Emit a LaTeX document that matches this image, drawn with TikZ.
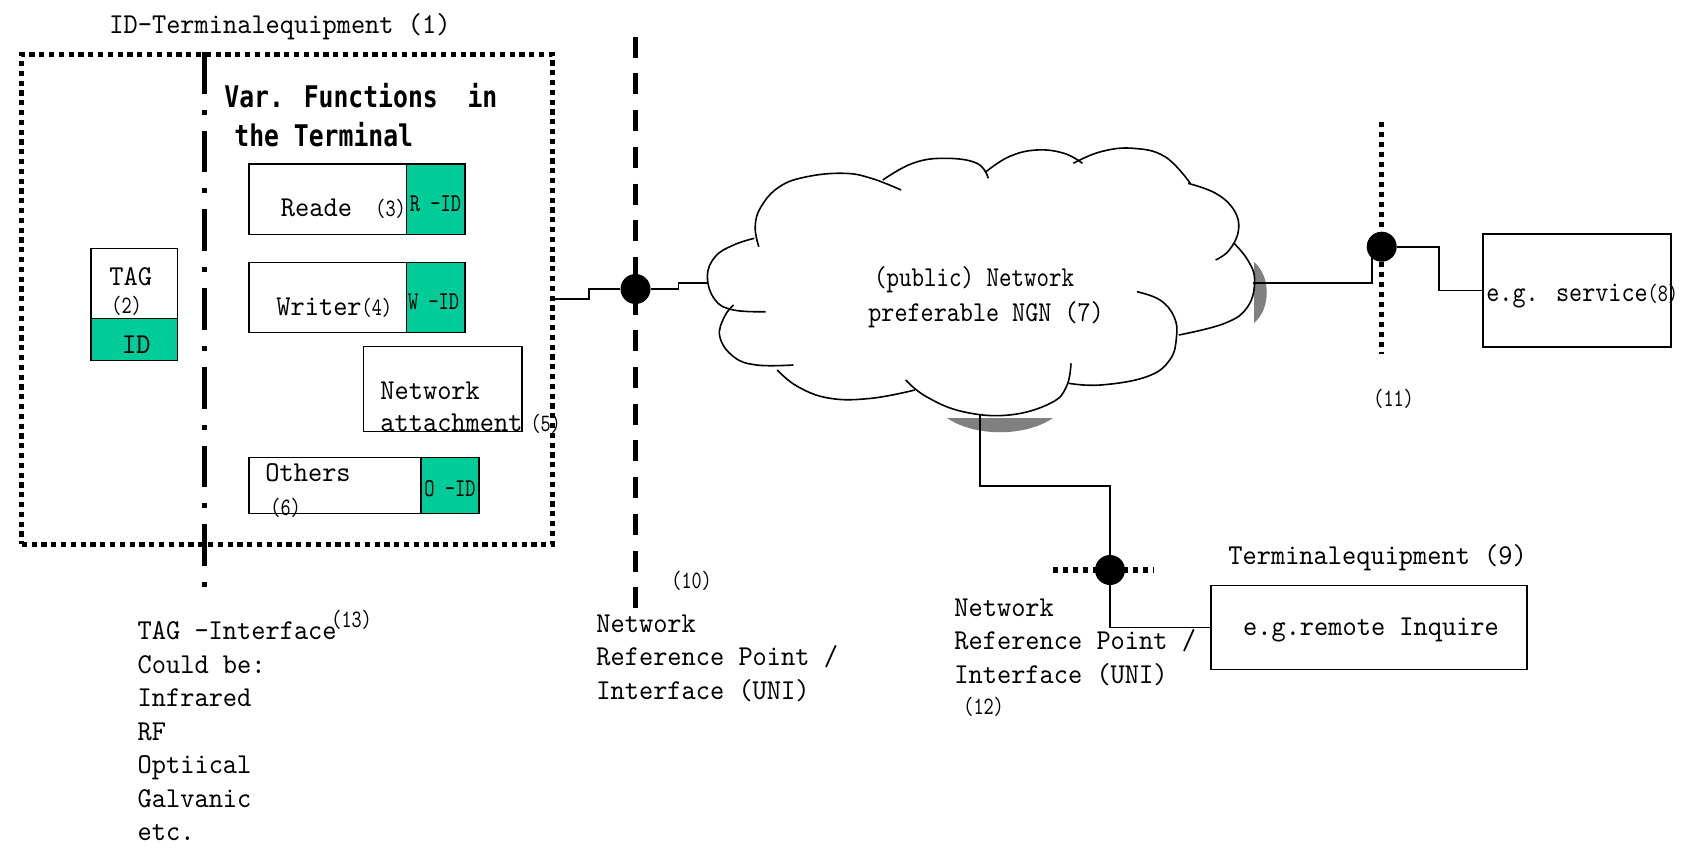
\documentclass[tikz,border=0pt]{standalone}
\usepackage{fontspec}
\usepackage{graphicx}
\newfontfamily\mainf[FakeStretch=0.94]{lmmono10-regular.otf}
\newfontfamily\smallf[FakeStretch=0.77]{lmmono10-regular.otf}
\newfontfamily\idf[FakeStretch=0.76]{lmmono10-regular.otf}
\newfontfamily\boldf[FakeStretch=0.83]{DejaVu Sans Mono}
\newcommand\smallpar[1]{{\smallf\fontsize{12.5pt}{14pt}\selectfont #1}}
\definecolor{idgreen}{HTML}{00CC99}
\definecolor{shadowgray}{HTML}{808080}
\tikzset{
  lbl/.style={inner sep=0pt, anchor=base west, font=\mainf\fontsize{14.4pt}{16.7pt}\selectfont},
  lblblock/.style={inner sep=0pt, anchor=north west, align=left, font=\mainf\fontsize{14.4pt}{16.75pt}\selectfont},
  smalllbl/.style={inner sep=0pt, anchor=base west, font=\smallf\fontsize{12.5pt}{14pt}\selectfont},
  idlbl/.style={inner sep=0pt, anchor=base west, font=\idf\fontsize{12.8pt}{15pt}\selectfont},
  boldlbl/.style={inner sep=0pt, anchor=base west, font=\boldf\bfseries\fontsize{14.9pt}{17pt}\selectfont},
  whitebox/.style={draw, line width=0.8pt, fill=white, inner sep=0pt, anchor=north west},
  greenbox/.style={draw, line width=0.8pt, fill=idgreen, inner sep=0pt, anchor=north west},
  blackdot/.style={circle, fill=black, inner sep=0pt, minimum size=15pt},
  conn/.style={line width=0.8pt},
  cloudline/.style={line width=0.8pt},
  dotline/.style={line width=2.7pt, dash pattern=on 2.5pt off 2.5pt},
  shadow/.style={fill=shadowgray},
}
\begin{document}
\begin{tikzpicture}[x=0.5pt,y=-0.5pt]
\useasboundingbox (0,0) rectangle (1692,847);
\fill[white] (0,0) rectangle (1692,847);

% ---------- ID terminal equipment ----------
\node[lbl] (title) at (109,33) {ID-Terminalequipment (1)};
\node[draw, line width=2.5pt, dash pattern=on 2.6pt off 2.3pt, inner sep=0pt, anchor=north west,
      minimum width=265.35pt, minimum height=245pt] (idterm) at (19.3,51.7) {};
\draw[line width=2.85pt, dash pattern=on 20.85pt off 8pt on 2.5pt off 8pt] (204.5,52) -- (204.5,587);

\node[boldlbl] (var1) at (224,107) {Var. Functions\ \ in};
\node[boldlbl] (var2) at (234,146) {the Terminal};

% reader
\node[whitebox, minimum width=78.8pt, minimum height=35.25pt] (reader) at (248,163) {};
\node[greenbox, minimum width=29.2pt, minimum height=35.25pt] (readerid) at (405.6,163) {};
\node[lbl] (readertxt) at (280.5,216.7) {Reade};
\node[smalllbl] (reader3) at (375,216.7) {(3)};
\node[idlbl] (ridtxt) at (409.5,211) {R -ID};

% writer
\node[whitebox, minimum width=78.8pt, minimum height=35pt] (writer) at (248,261.5) {};
\node[greenbox, minimum width=29.2pt, minimum height=35pt] (writerid) at (405.6,261.5) {};
\node[lbl] (writertxt) at (276,315) {Writer\smallpar{(4)}};
\node[idlbl] (widtxt) at (407.6,309) {W -ID};

% network attachment
\node[whitebox, minimum width=79.1pt, minimum height=42.5pt] (netatt) at (362.8,345.5) {};
\node[lbl] (nattxt1) at (380,399.3) {Network};
\node[lbl] (nattxt2) at (380,431.7) {attachment\hspace{4pt}\smallpar{(5)}};

% others
\node[whitebox, minimum width=86pt, minimum height=28.1pt] (others) at (248,456.5) {};
\node[greenbox, minimum width=29.2pt, minimum height=28.1pt] (othersid) at (420,456.5) {};
\node[lbl] (otherstxt) at (265,481) {Others};
\node[smalllbl] (others6) at (270,515) {(6)};
\node[idlbl] (oidtxt) at (424,496.7) {O -ID};

% TAG
\node[whitebox, minimum width=43.4pt, minimum height=35.1pt] (tag) at (90,247.5) {};
\node[greenbox, minimum width=43.4pt, minimum height=20.9pt] (tagid) at (90,317.7) {};
\node[lbl] (tagtxt) at (109,285) {TAG};
\node[smalllbl] (tag2) at (111,313) {(2)};
\node[lbl] (tagidtxt) at (121.7,353) {ID};

% TAG interface text
\node[lblblock] (tagif) at (137.3,621.4) {TAG -Interface\\Could be:\\Infrared\\RF\\Optiical\\Galvanic\\etc.};
\node[smalllbl] (tag13) at (331,627) {(13)};

% ---------- reference point (10) ----------
\draw[line width=2.85pt, dash pattern=on 10.5pt off 7.85pt] (635.5,36.7) -- (635.5,620);
\node[blackdot] (dot10) at (635.5,289) {};
\node[smalllbl] (lbl10) at (671,588) {(10)};
\node[lblblock] (uni10) at (596,614.4) {Network\\Reference Point /\\Interface (UNI)};

% ---------- cloud ----------
\fill[shadow] (1254,262) .. controls (1271,276) and (1271,309) .. (1254,323) -- cycle;
\fill[shadow] (947,418) .. controls (975,437) and (1025,437) .. (1053,418) -- cycle;
\begin{scope}[cloudline]
\draw plot[smooth, tension=0.7] coordinates {(765.7,311.7) (733.6,310) (715.2,300) (707.4,276.7) (715.2,256.7) (733.6,245) (754.3,238.3)};
\draw plot[smooth, tension=0.7] coordinates {(758.8,246.7) (755.2,226.7) (761.1,206.7) (779.5,186.7) (807,176.7) (843.8,173.3) (871.3,178.3) (901.1,190)};
\draw plot[smooth, tension=0.7] coordinates {(882.8,180) (912.6,163.3) (944.7,158.3) (976.9,163.3) (988.3,178.3)};
\draw plot[smooth, tension=0.7] coordinates {(986,171.7) (1009,156.7) (1036.5,150) (1064,153.3) (1082.4,163.3)};
\draw plot[smooth, tension=0.7] coordinates {(1073.3,163.3) (1100.8,151.7) (1132.9,148.3) (1165,156.7) (1190.3,183.3)};
\draw plot[smooth, tension=0.7] coordinates {(1188,183.3) (1215.6,193.3) (1233.9,210) (1238.5,230) (1229.3,250) (1215.6,260)};
\draw plot[smooth, tension=0.7] coordinates {(1234,243.3) (1247.7,260) (1254.6,280) (1247.7,306.7) (1224.7,323.3) (1178.8,335)};
\draw plot[smooth, tension=0.7] coordinates {(1137,291.7) (1160,300) (1174,316.7) (1176.5,336.7) (1169.7,360) (1146.7,376.7) (1100.8,385) (1068.7,383.3)};
\draw plot[smooth, tension=0.7] coordinates {(1071,363.3) (1066.4,386.7) (1050.3,403.3) (1009,415) (963.1,411.7) (926.4,396.7) (905.7,380)};
\draw plot[smooth, tension=0.7] coordinates {(914.9,390) (871.3,398.3) (830,398.3) (797.9,386.7) (777.2,370)};
\draw plot[smooth, tension=0.7] coordinates {(793.3,365) (756.6,365) (733.6,356.7) (719.8,336.7) (724.4,316.7) (733.6,305)};
\end{scope}
\coordinate (cloudL) at (708,282.7);
\coordinate (cloudR) at (1253,282.7);
\coordinate (cloudB) at (980,413.5);
\node[lbl] (cloudt1) at (873.6,286.7) {\scalebox{0.88}[1]{(public) Network}};
\node[lbl] (cloudt2) at (868,321) {\scalebox{0.92}[1]{preferable NGN (7)}};

% ---------- reference point (11) and service ----------
\draw[dotline] (1381.7,121.7) -- (1381.7,354);
\node[blackdot] (dot11) at (1381.7,246.7) {};
\node[smalllbl] (lbl11) at (1373,406.7) {(11)};
\node[whitebox, minimum width=94pt, minimum height=56.5pt] (service) at (1482,233) {};
\node[lbl] (servicetxt) at (1486,301.7) {\scalebox{0.92}[1]{e.g. service}\smallpar{(8)}};

% ---------- reference point (12) and remote terminal ----------
\draw[dotline] (1052.5,570) -- (1153.3,570);
\node[blackdot] (dot12) at (1110,570) {};
\node[lblblock] (uni12) at (954,598.4) {Network\\Reference Point /\\Interface (UNI)};
\node[smalllbl] (lbl12) at (963,714) {(12)};
\node[lbl] (term9) at (1228,564) {Terminalequipment (9)};
\node[whitebox, minimum width=158pt, minimum height=42pt] (remote) at (1210,584.5) {};
\node[lbl] (remotetxt) at (1242.7,635) {e.g.remote Inquire};

% ---------- connectors ----------
\draw[conn] (idterm.east) -- ++(34,0) |- (dot10);
\draw[conn] (dot10) -- ++(43,0) |- (cloudL);
\draw[conn] (cloudR) -| ([xshift=-4.85pt]dot11.center);
\draw[conn] (dot11) -- ++(57.3,0) |- (service.west);
\draw[conn] (cloudB) -- ++(0,72.5) -| (dot12);
\draw[conn] (dot12) |- (remote.west);
\end{tikzpicture}
\end{document}
